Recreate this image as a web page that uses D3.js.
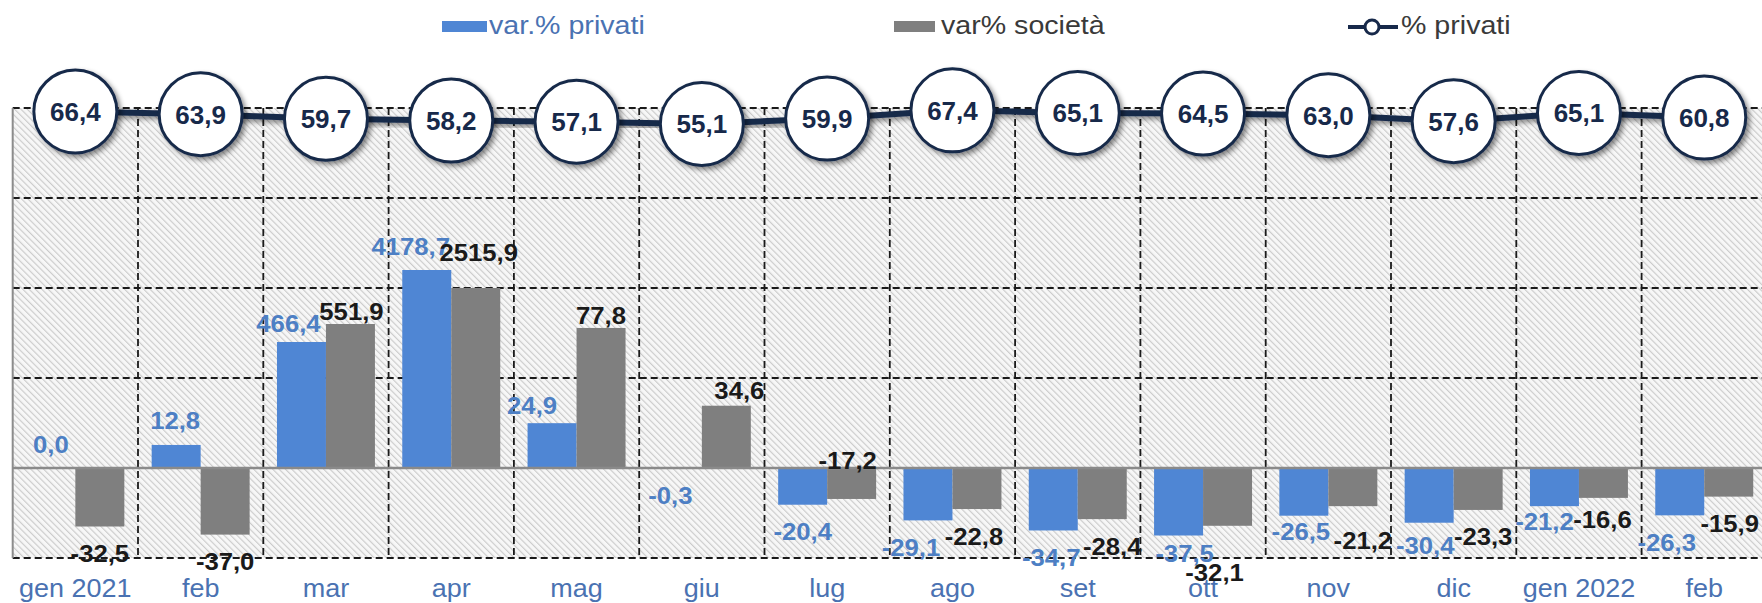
<!DOCTYPE html>
<html><head><meta charset="utf-8">
<script src="https://cdn.jsdelivr.net/npm/d3@7"></script>
<style>html,body{margin:0;padding:0;background:#fff;} svg{display:block;font-family:"Liberation Sans",Arial,sans-serif;}</style>
</head><body><svg id="chart" width="1762" height="603"></svg>
<script>
// ---------------- data ----------------
const categories = ["gen 2021","feb","mar","apr","mag","giu","lug","ago","set","ott","nov","dic","gen 2022","feb"];
// printed values
const varPrivati = [0.0, 12.8, 466.4, 4178.7, 24.9, -0.3, -20.4, -29.1, -34.7, -37.5, -26.5, -30.4, -21.2, -26.3];
const varSocieta = [-32.5, -37.0, 551.9, 2515.9, 77.8, 34.6, -17.2, -22.8, -28.4, -32.1, -21.2, -23.3, -16.6, -15.9];
// bar heights as drawn in the picture (the original truncates mar/apr)
const varPrivatiDrawn = [0.0, 12.8, 70, 110, 24.9, -0.3, -20.4, -29.1, -34.7, -37.5, -26.5, -30.4, -21.2, -26.3];
const varSocietaDrawn = [-32.5, -37.0, 80, 100, 77.8, 34.6, -17.2, -22.8, -28.4, -32.1, -21.2, -23.3, -16.6, -15.9];
const quotaPrivati = [66.4, 63.9, 59.7, 58.2, 57.1, 55.1, 59.9, 67.4, 65.1, 64.5, 63.0, 57.6, 65.1, 60.8];
const gridTicks = [-50, 0, 50, 100, 150, 200];
const seriesNames = ["var.% privati", "var% società", "% privati"];

// ---------------- layout ----------------
const W = 1762, H = 603;
const plotLeft = 12.7, step = 125.3, plotTop = 108, plotBottom = 558;
const colBlue = "#4f86d4", colGray = "#7f7f7f", colNavy = "#17294a";
const colBlueText = "#4d7fc4", colAxisText = "#4a72b2";

const svg = d3.select("#chart");
const defs = svg.append("defs");
const pat = defs.append("pattern").attr("id","hatch").attr("patternUnits","userSpaceOnUse")
  .attr("width",4.5).attr("height",4.5).attr("patternTransform","rotate(-45)");
pat.append("rect").attr("width",4.5).attr("height",4.5).attr("fill","#f7f7f7");
pat.append("line").attr("x1",0.5).attr("y1",0).attr("x2",0.5).attr("y2",4.5)
  .attr("stroke","#cbcbcb").attr("stroke-width",1.3);
const flt = defs.append("filter").attr("id","shadow").attr("x","-30%").attr("y","-30%").attr("width","160%").attr("height","160%");
flt.append("feDropShadow").attr("dx",3).attr("dy",3).attr("stdDeviation",2.5)
  .attr("flood-color","#000").attr("flood-opacity",0.45);

const x = d3.scaleBand().domain(d3.range(categories.length))
  .range([plotLeft, plotLeft + step * categories.length]).padding(0);
const xs = d3.scaleBand().domain([0,1]).range([0, x.bandwidth()]).paddingInner(0).paddingOuter(0.279);
const y = d3.scaleLinear().domain([-50, 200]).range([plotBottom, plotTop]);
const y2 = d3.scaleLinear().domain([0, 100]).range([184.5, 74.5]);
const fmt = d3.formatLocale({decimal:",", thousands:".", grouping:[3], currency:["","€"], minus:"-"}).format(".1f");

// plot background
svg.append("rect").attr("x",plotLeft).attr("y",plotTop).attr("width",W-plotLeft).attr("height",plotBottom-plotTop)
  .attr("fill","url(#hatch)");

// grid
const grid = svg.append("g");
gridTicks.filter(t => t !== 0).forEach(t => {
  grid.append("line").attr("x1",plotLeft).attr("x2",W).attr("y1",y(t)).attr("y2",y(t))
    .attr("stroke","#1a1a1a").attr("stroke-width",1.8).attr("stroke-dasharray","7,4");
});
d3.range(1, categories.length).forEach(i => {
  grid.append("line").attr("x1",x(i)).attr("x2",x(i)).attr("y1",plotTop).attr("y2",plotBottom)
    .attr("stroke","#1a1a1a").attr("stroke-width",1.8).attr("stroke-dasharray","7,4");
});
grid.append("line").attr("x1",plotLeft).attr("x2",plotLeft).attr("y1",plotTop).attr("y2",plotBottom)
  .attr("stroke","#8c8c8c").attr("stroke-width",2);

// bars
const series = [
  {drawn: varPrivatiDrawn, vals: varPrivati, color: colBlue, textColor: colBlueText, k: 0},
  {drawn: varSocietaDrawn, vals: varSocieta, color: colGray, textColor: "#1a1a1a", k: 1}
];
series.forEach(s => {
  svg.append("g").selectAll("rect").data(s.drawn).join("rect")
    .attr("x",(d,i)=>x(i)+xs(s.k)).attr("width",xs.bandwidth())
    .attr("y",d=>y(Math.max(0,d))).attr("height",d=>Math.abs(y(d)-y(0)))
    .attr("fill",s.color);
});

// zero line
svg.append("line").attr("x1",plotLeft).attr("x2",W).attr("y1",y(0)).attr("y2",y(0))
  .attr("stroke","#8a8a8a").attr("stroke-width",2.5);

// category labels
svg.append("g").selectAll("text").data(categories).join("text")
  .attr("transform",(d,i)=>`translate(${x(i)+x.bandwidth()/2},597) scale(1.08,1)`)
  .attr("text-anchor","middle").attr("font-size",25).attr("fill",colAxisText).text(d=>d);

// data labels (manual nudges like the original)
const nudges = [
  [[0,-8],[-1,-9],[-13,-3],[-16,-8],[-20,-3],[-7,0],[0,0],[-17,0],[-2,0],[6,-9],[-3,-11],[-4,-4],[-10,-12],[-13,0]],
  [[0,0],[0,0],[1,3],[3,-20],[0,3],[13,0],[-4,-65],[-3,1],[10,0],[-13,20],[10,7],[5,0],[-1,-5],[1,0]]
];
series.forEach(s => {
  svg.append("g").selectAll("text").data(s.drawn).join("text")
    .attr("transform",(d,i)=>{
      const tx = x(i)+xs(s.k)+xs.bandwidth()/2 + nudges[s.k][i][0];
      const ty = (d >= 0 ? y(d) - 15 : y(d) + 27) + nudges[s.k][i][1];
      return `translate(${tx},${ty}) scale(1.07,1)`;
    })
    .attr("dy","0.35em")
    .attr("text-anchor","middle").attr("font-size",24).attr("font-weight","bold")
    .attr("fill",s.textColor).text((d,i)=>fmt(s.vals[i]));
});

// line series
const line = d3.line().x((d,i)=>x(i)+x.bandwidth()/2).y(d=>y2(d));
svg.append("path").datum(quotaPrivati).attr("d",line).attr("fill","none")
  .attr("stroke",colNavy).attr("stroke-width",6).attr("filter","url(#shadow)");
const pts = svg.append("g").selectAll("g").data(quotaPrivati).join("g")
  .attr("transform",(d,i)=>`translate(${x(i)+x.bandwidth()/2},${y2(d)})`);
pts.append("circle").attr("r",41.5).attr("fill","#fff").attr("stroke",colNavy).attr("stroke-width",3)
  .attr("filter","url(#shadow)");
pts.append("text").attr("text-anchor","middle").attr("dy","0.36em").attr("font-size",26)
  .attr("font-weight","bold").attr("fill",colNavy).text(d=>fmt(d));

// legend
const lg = svg.append("g");
lg.append("rect").attr("x",442).attr("y",21).attr("width",45).attr("height",11).attr("fill",colBlue);
lg.append("text").attr("transform","translate(489,34) scale(1.1,1)").attr("font-size",26)
  .attr("fill",colAxisText).text(seriesNames[0]);
lg.append("rect").attr("x",894).attr("y",21).attr("width",41).attr("height",11).attr("fill",colGray);
lg.append("text").attr("transform","translate(941,34) scale(1.1,1)").attr("font-size",26)
  .attr("fill","#3a3a3a").text(seriesNames[1]);
lg.append("line").attr("x1",1348).attr("x2",1398).attr("y1",27).attr("y2",27)
  .attr("stroke",colNavy).attr("stroke-width",4);
lg.append("circle").attr("cx",1372).attr("cy",27).attr("r",7).attr("fill","#fff")
  .attr("stroke",colNavy).attr("stroke-width",3);
lg.append("text").attr("transform","translate(1401,34) scale(1.1,1)").attr("font-size",26)
  .attr("fill","#3a3a3a").text(seriesNames[2]);
</script></body></html>
